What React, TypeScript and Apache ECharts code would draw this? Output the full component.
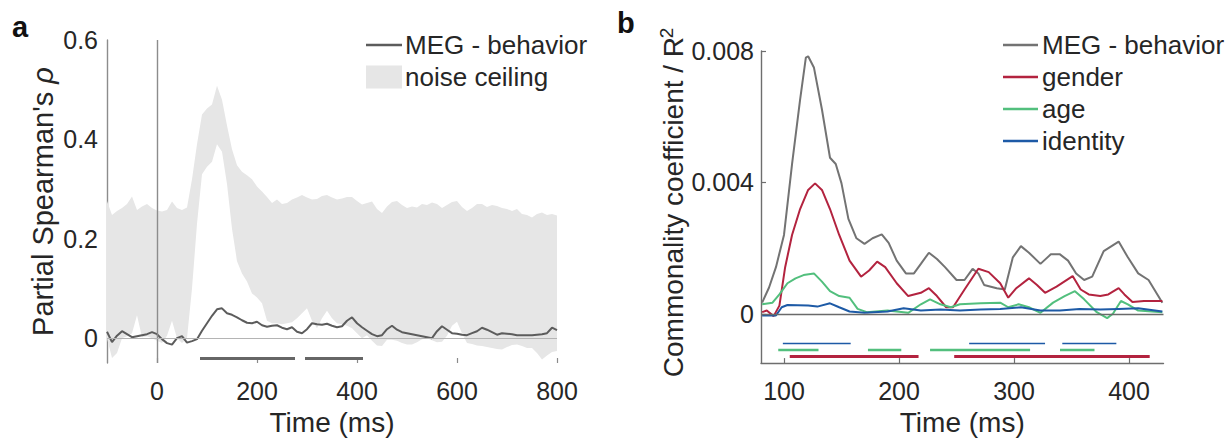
import React, { useEffect, useRef } from "react";
import * as echarts from "echarts";

// ---------- Panel a data ----------
const timeA = [
  -100, -90, -80, -70, -60, -50, -40, -30, -20, -10, 0, 10, 20, 30, 40, 50, 60, 70, 80, 90,
  100, 110, 120, 130, 140, 150, 160, 170, 180, 190, 200, 210, 220, 230, 240, 250, 260, 270, 280, 290,
  300, 310, 320, 330, 340, 350, 360, 370, 380, 390, 400, 410, 420, 430, 440, 450, 460, 470, 480, 490,
  500, 510, 520, 530, 540, 550, 560, 570, 580, 590, 600, 610, 620, 630, 640, 650, 660, 670, 680, 690,
  700, 710, 720, 730, 740, 750, 760, 770, 780, 790, 800,
];
const megA = [
  0.013, -0.008, 0.005, 0.014, 0.008, 0.002, 0.004, 0.006, 0.008, 0.012, 0.008, -0.002, -0.01, -0.013, 0.0, 0.004, -0.009, -0.006, -0.002, 0.015,
  0.03, 0.045, 0.058, 0.06, 0.05, 0.047, 0.042, 0.036, 0.031, 0.03, 0.033, 0.026, 0.023, 0.025, 0.026, 0.021, 0.018, 0.022, 0.013, 0.01,
  0.018, 0.03, 0.028, 0.027, 0.029, 0.025, 0.022, 0.024, 0.035, 0.042, 0.03, 0.022, 0.015, 0.008, 0.004, 0.006, 0.018, 0.025, 0.017, 0.012,
  0.01, 0.008, 0.006, 0.004, 0.002, 0.0, 0.014, 0.024, 0.017, 0.01, 0.009, 0.007, 0.006, 0.01, 0.014, 0.021, 0.017, 0.012, 0.007, 0.01,
  0.009, 0.008, 0.006, 0.006, 0.006, 0.006, 0.007, 0.008, 0.01, 0.021, 0.016,
];
const ceilLow = [
  0.0, -0.04, -0.03, 0.0, 0.004, 0.01, 0.046, 0.002, 0.004, 0.0, -0.005, -0.01, 0.005, 0.035, 0.0, -0.01, 0.0, 0.1, 0.23, 0.33,
  0.345, 0.355, 0.39, 0.375, 0.31, 0.22, 0.155, 0.13, 0.114, 0.09, 0.082, 0.07, 0.035, 0.03, 0.03, 0.028, 0.03, 0.032, 0.04, 0.05,
  0.06, 0.035, 0.02, 0.04, 0.055, 0.04, 0.03, 0.028, 0.025, 0.02, 0.01, 0.0, 0.006, -0.005, -0.015, -0.016, -0.003, -0.003, -0.005, -0.01,
  -0.013, -0.013, -0.008, -0.002, 0.0, -0.004, -0.008, -0.007, 0.005, 0.025, 0.033, 0.01, -0.01, -0.012, -0.015, -0.016, -0.018, -0.02, -0.022, -0.023,
  -0.018, -0.014, -0.013, -0.016, -0.02, -0.02, -0.03, -0.043, -0.035, -0.028, -0.026,
];
const ceilHigh = [
  0.276, 0.248, 0.256, 0.262, 0.27, 0.285, 0.258, 0.265, 0.27, 0.262, 0.257, 0.255, 0.258, 0.275, 0.262, 0.258, 0.263, 0.32, 0.39, 0.45,
  0.462, 0.47, 0.508, 0.48, 0.428, 0.38, 0.348, 0.335, 0.328, 0.32, 0.305, 0.295, 0.284, 0.272, 0.279, 0.27, 0.272, 0.279, 0.283, 0.288,
  0.283, 0.279, 0.28, 0.286, 0.288, 0.283, 0.279, 0.281, 0.284, 0.284, 0.276, 0.269, 0.272, 0.275, 0.26, 0.252, 0.265, 0.274, 0.276, 0.268,
  0.262, 0.265, 0.263, 0.27, 0.268, 0.273, 0.27, 0.262, 0.268, 0.274, 0.276, 0.264, 0.256, 0.262, 0.27, 0.27, 0.264, 0.268, 0.266, 0.262,
  0.26, 0.256, 0.26, 0.25, 0.248, 0.243, 0.25, 0.253, 0.248, 0.25, 0.247,
];
const sigA: [number, number][] = [[86, 276], [296, 412]];
const sigAValue = -0.041;
const ticksAx = [0, 200, 400, 600, 800];
const ticksAy = [0, 0.2, 0.4, 0.6];

// ---------- Panel b data (values in units of 0.001) ----------
const megB: [number, number][] = [
  [81, 0.34], [87, 0.8], [93, 1.42], [100, 2.4], [107, 4.56], [114, 6.52], [119, 7.8], [121, 7.84], [126, 7.5],
  [133, 6.22], [140, 4.75], [145, 4.56], [150, 3.97], [156, 2.89], [163, 2.3], [170, 2.13], [177, 2.3], [185, 2.42],
  [191, 2.16], [198, 1.62], [206, 1.23], [213, 1.23], [219, 1.52], [226, 1.86], [233, 1.67], [240, 1.42], [250, 1.03],
  [257, 1.03], [264, 1.37], [269, 1.23], [274, 0.88], [285, 0.78], [292, 0.74], [299, 1.72], [306, 2.06], [313, 1.86],
  [323, 1.52], [332, 1.81], [340, 1.81], [347, 1.62], [354, 1.23], [361, 1.03], [368, 1.13], [378, 1.91], [391, 2.2],
  [399, 1.72], [408, 1.23], [417, 1.03], [429, 0.34],
];
const genderB: [number, number][] = [
  [81, 0.05], [85, 0.1], [91, -0.07], [96, 0.25], [101, 1.42], [107, 2.4], [114, 3.19], [121, 3.77], [127, 3.97],
  [133, 3.77], [140, 3.19], [148, 2.4], [157, 1.62], [167, 1.13], [174, 1.32], [181, 1.59], [188, 1.42], [198, 0.93],
  [208, 0.54], [219, 0.64], [226, 0.78], [233, 0.54], [241, 0.2], [247, 0.2], [257, 0.74], [269, 1.37], [278, 1.27],
  [288, 0.93], [295, 0.49], [302, 0.78], [313, 1.08], [320, 0.88], [327, 0.64], [337, 0.83], [351, 1.15], [358, 0.74],
  [365, 0.59], [375, 0.54], [382, 0.59], [391, 0.78], [396, 0.59], [403, 0.36], [413, 0.39], [429, 0.39],
];
const ageB: [number, number][] = [
  [81, 0.29], [90, 0.34], [96, 0.59], [103, 0.93], [110, 1.08], [117, 1.18], [126, 1.23], [133, 0.98], [140, 0.69],
  [148, 0.54], [157, 0.49], [164, 0.15], [172, 0.05], [190, 0.1], [208, 0.03], [219, 0.29], [227, 0.44], [236, 0.29],
  [245, 0.2], [253, 0.29], [271, 0.32], [288, 0.34], [295, 0.2], [304, 0.29], [313, 0.2], [323, 0.03], [334, 0.34],
  [344, 0.54], [353, 0.69], [361, 0.44], [372, 0.05], [381, -0.13], [386, 0.0], [393, 0.39], [399, 0.29], [408, 0.1],
  [429, 0.05],
];
const identityB: [number, number][] = [
  [81, -0.05], [93, -0.05], [98, 0.2], [103, 0.27], [121, 0.25], [129, 0.22], [140, 0.32], [148, 0.2], [157, 0.07],
  [170, 0.03], [190, 0.07], [204, 0.17], [219, 0.1], [236, 0.13], [253, 0.1], [271, 0.13], [288, 0.15], [306, 0.2],
  [323, 0.1], [340, 0.1], [357, 0.15], [375, 0.13], [391, 0.15], [408, 0.17], [429, 0.07],
];
const sigIdentity: [number, number][] = [[99, 158], [261, 327], [342, 389]];
const sigAge: [number, number][] = [[95, 130], [173, 202], [227, 314], [340, 370]];
const sigGender: [number, number][] = [[105, 217], [248, 418]];
const sigBValues = { identity: -0.906, age: -1.1, gender: -1.3 };
const ticksBx = [100, 200, 300, 400];
const ticksBy = [0, 0.004, 0.008];

// ---------- styling ----------
const FONT = "'Liberation Sans', Arial, Helvetica, sans-serif";
const TXT = "#262626";
const C_MEG_A = "#5c5c5c";
const C_MEG_B = "#737373";
const C_GENDER = "#b3233f";
const C_AGE = "#52bf7d";
const C_ID = "#1d5aa6";
const C_BAND = "#e6e6e6";
const LINE_ICON = "path://M0,0L36,0L36,2.4L0,2.4Z";

const milli = (pts: [number, number][]) => pts.map(([t, v]) => [t, v / 1000]);
const segs = (list: [number, number][], y: number) => {
  const out: any[] = [];
  list.forEach(([s, e]) => {
    out.push([s, y], [e, y], [e, null]);
  });
  return out;
};

function buildOption(): any {
  const axisText = { fontSize: 25, color: TXT, fontFamily: FONT };
  const nameText = { fontSize: 28, color: TXT, fontFamily: FONT };
  return {
    animation: false,
    backgroundColor: "#ffffff",
    grid: [
      { left: 107, top: 40, width: 450, height: 330 },
      { left: 761, top: 51, width: 402.5, height: 322 },
    ],
    xAxis: [
      {
        type: "value",
        gridIndex: 0,
        min: -100,
        max: 800,
        axisLine: { show: false, onZero: false },
        axisTick: {
          show: true,
          inside: true,
          length: 5,
          customValues: ticksAx,
          lineStyle: { color: "#8a8a8a", width: 1.2 },
        },
        axisLabel: { customValues: ticksAx, margin: 15, ...axisText },
        splitLine: { show: false },
        name: "Time (ms)",
        nameLocation: "middle",
        nameGap: 45,
        nameTextStyle: nameText,
      },
      {
        type: "value",
        gridIndex: 1,
        min: 80,
        max: 430,
        axisLine: { show: true, onZero: false, lineStyle: { color: "#6e6e6e", width: 1.4 } },
        axisTick: {
          show: true,
          inside: true,
          length: 5,
          customValues: ticksBx,
          lineStyle: { color: "#6e6e6e", width: 1.2 },
        },
        axisLabel: { customValues: ticksBx, margin: 15, ...axisText },
        splitLine: { show: false },
        name: "Time (ms)",
        nameLocation: "middle",
        nameGap: 43,
        nameTextStyle: nameText,
      },
    ],
    yAxis: [
      {
        type: "value",
        gridIndex: 0,
        min: -0.05,
        max: 0.6,
        axisLine: { show: true, onZero: false, lineStyle: { color: "#8c8c8c", width: 1.4 } },
        axisTick: { show: false },
        axisLabel: {
          customValues: ticksAy,
          margin: 9,
          formatter: (v: number) => (v === 0 ? "0" : v.toFixed(1)),
          ...axisText,
        },
        splitLine: { show: false },
        name: "{n|Partial Spearman's }{r|ρ}",
        nameLocation: "middle",
        nameRotate: 90,
        nameGap: 50,
        nameTextStyle: {
          ...nameText,
          rich: {
            n: { ...nameText, fontSize: 29 },
            r: { ...nameText, fontSize: 29, fontStyle: "italic" },
          },
        },
      },
      {
        type: "value",
        gridIndex: 1,
        min: -0.0015,
        max: 0.008,
        axisLine: { show: true, onZero: false, lineStyle: { color: "#6e6e6e", width: 1.4 } },
        axisTick: {
          show: true,
          inside: true,
          length: 5,
          customValues: ticksBy,
          lineStyle: { color: "#6e6e6e", width: 1.2 },
        },
        axisLabel: {
          customValues: ticksBy,
          margin: 7,
          formatter: (v: number) => (v === 0 ? "0" : v.toFixed(3)),
          ...axisText,
        },
        splitLine: { show: false },
        name: "Commonality coefficient / R",
        nameLocation: "middle",
        nameRotate: 90,
        nameGap: 72,
        nameTextStyle: { ...nameText, padding: [0, 0, 0, 0] },
      },
    ],
    legend: [
      {
        left: 366,
        top: 32,
        padding: 0,
        orient: "vertical",
        itemWidth: 36,
        itemHeight: 23,
        itemGap: 6,
        selectedMode: false,
        textStyle: { fontSize: 26, color: TXT, fontFamily: FONT, padding: [0, 0, 0, -2] },
        data: [
          { name: "MEG - behavior", icon: LINE_ICON, itemStyle: { color: C_MEG_A } },
          { name: "noise ceiling", icon: "rect", itemStyle: { color: C_BAND, borderWidth: 0 } },
        ],
      },
      {
        left: 1003,
        top: 32,
        padding: 0,
        orient: "vertical",
        itemWidth: 35,
        itemHeight: 23,
        itemGap: 6,
        selectedMode: false,
        textStyle: { fontSize: 26, color: TXT, fontFamily: FONT, padding: [0, 0, 0, -1] },
        data: [
          { name: "MEG - behavior", icon: LINE_ICON, itemStyle: { color: C_MEG_B } },
          { name: "gender", icon: LINE_ICON, itemStyle: { color: C_GENDER } },
          { name: "age", icon: LINE_ICON, itemStyle: { color: C_AGE } },
          { name: "identity", icon: LINE_ICON, itemStyle: { color: C_ID } },
        ],
      },
    ],
    graphic: [
      {
        type: "text",
        left: 12,
        top: 12,
        style: { text: "a", fontSize: 29, fontWeight: "bold", fontFamily: FONT, fill: "#111" },
      },
      {
        type: "text",
        left: 617,
        top: 8,
        style: { text: "b", fontSize: 29, fontWeight: "bold", fontFamily: FONT, fill: "#111" },
      },
      {
        type: "text",
        x: 666,
        y: 33,
        rotation: Math.PI / 2,
        style: {
          text: "2",
          fontSize: 19,
          fontFamily: FONT,
          fill: TXT,
          align: "center",
          verticalAlign: "middle",
        },
      },
    ],
    series: [
      {
        name: "noise ceiling",
        type: "custom",
        xAxisIndex: 0,
        yAxisIndex: 0,
        data: timeA.map((t, i) => [t, ceilLow[i], ceilHigh[i]]),
        encode: { x: 0, y: [1, 2] },
        silent: true,
        itemStyle: { color: C_BAND },
        z: 1,
        renderItem: (params: any, api: any) => {
          if (params.dataIndex !== 0) return null;
          const pts: number[][] = [];
          for (let i = 0; i < timeA.length; i++) pts.push(api.coord([timeA[i], ceilHigh[i]]));
          for (let i = timeA.length - 1; i >= 0; i--) pts.push(api.coord([timeA[i], ceilLow[i]]));
          return {
            type: "polygon",
            shape: { points: pts },
            style: { fill: C_BAND, stroke: "none" },
          };
        },
      },
      {
        name: "MEG - behavior",
        type: "line",
        xAxisIndex: 0,
        yAxisIndex: 0,
        data: timeA.map((t, i) => [t, megA[i]]),
        symbol: "none",
        silent: true,
        itemStyle: { color: C_MEG_A },
        lineStyle: { color: C_MEG_A, width: 2 },
        z: 3,
        markLine: {
          silent: true,
          symbol: "none",
          label: { show: false },
          animation: false,
          data: [
            { xAxis: 0, lineStyle: { color: "#8c8c8c", width: 1.4, type: "solid" } },
            { yAxis: 0, lineStyle: { color: "#b4b4b4", width: 1.2, type: "solid" } },
          ],
        },
      },
      {
        name: "sigA",
        type: "line",
        xAxisIndex: 0,
        yAxisIndex: 0,
        data: segs(sigA, sigAValue),
        symbol: "none",
        silent: true,
        connectNulls: false,
        lineStyle: { color: "#666666", width: 3, cap: "butt" },
        z: 3,
      },
      {
        name: "MEG - behavior",
        type: "line",
        xAxisIndex: 1,
        yAxisIndex: 1,
        data: milli(megB),
        symbol: "none",
        silent: true,
        itemStyle: { color: C_MEG_B },
        lineStyle: { color: C_MEG_B, width: 2 },
        z: 3,
        markLine: {
          silent: true,
          symbol: "none",
          label: { show: false },
          animation: false,
          data: [{ yAxis: 0, lineStyle: { color: "#6a6a6a", width: 1.4, type: "solid" } }],
        },
      },
      {
        name: "gender",
        type: "line",
        xAxisIndex: 1,
        yAxisIndex: 1,
        data: milli(genderB),
        symbol: "none",
        silent: true,
        itemStyle: { color: C_GENDER },
        lineStyle: { color: C_GENDER, width: 2 },
        z: 4,
      },
      {
        name: "age",
        type: "line",
        xAxisIndex: 1,
        yAxisIndex: 1,
        data: milli(ageB),
        symbol: "none",
        silent: true,
        itemStyle: { color: C_AGE },
        lineStyle: { color: C_AGE, width: 2 },
        z: 4,
      },
      {
        name: "identity",
        type: "line",
        xAxisIndex: 1,
        yAxisIndex: 1,
        data: milli(identityB),
        symbol: "none",
        silent: true,
        itemStyle: { color: C_ID },
        lineStyle: { color: C_ID, width: 2 },
        z: 4,
      },
      {
        name: "sigIdentity",
        type: "line",
        xAxisIndex: 1,
        yAxisIndex: 1,
        data: segs(sigIdentity, sigBValues.identity / 1000),
        symbol: "none",
        silent: true,
        connectNulls: false,
        lineStyle: { color: C_ID, width: 1.5, cap: "butt" },
      },
      {
        name: "sigAge",
        type: "line",
        xAxisIndex: 1,
        yAxisIndex: 1,
        data: segs(sigAge, sigBValues.age / 1000),
        symbol: "none",
        silent: true,
        connectNulls: false,
        lineStyle: { color: C_AGE, width: 2.5, cap: "butt" },
      },
      {
        name: "sigGender",
        type: "line",
        xAxisIndex: 1,
        yAxisIndex: 1,
        data: segs(sigGender, sigBValues.gender / 1000),
        symbol: "none",
        silent: true,
        connectNulls: false,
        lineStyle: { color: C_GENDER, width: 3, cap: "butt" },
      },
    ],
  };
}

export default function App() {
  const ref = useRef<HTMLDivElement>(null);
  useEffect(() => {
    if (!ref.current) return;
    const chart = echarts.init(ref.current, null, { renderer: "svg" });
    chart.setOption(buildOption());
    return () => chart.dispose();
  }, []);
  return (
    <div
      ref={ref}
      style={{ position: "absolute", left: 0, top: 0, width: 1230, height: 441, background: "#fff" }}
    />
  );
}
